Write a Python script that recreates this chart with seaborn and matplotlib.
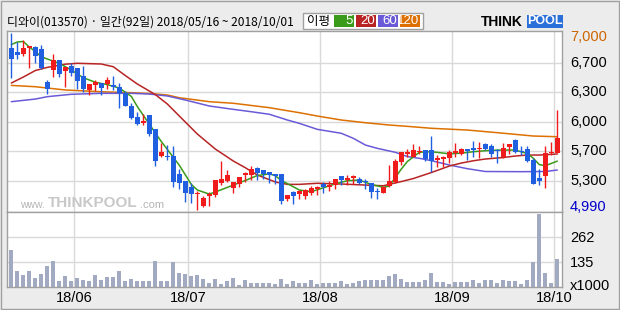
import numpy as np
import pandas as pd
import matplotlib
matplotlib.use("Agg")
import matplotlib.pyplot as plt
import matplotlib.transforms as mtransforms
from matplotlib.patches import Rectangle
import seaborn as sns

# ---------------- data ----------------
opens = [6831, 6789, 6767, 6838, 6843, 6823, 6445, 6588, 6698, 6573,
         6630, 6604, 6517, 6358, 6418, 6437, 6426, 6414, 6395, 6320,
         6179, 6051, 5986, 6077, 5915, 5608, 5608, 5608, 5403, 5327,
         5259, 5180, 5040, 5154, 5168, 5305, 5324, 5248, 5289, 5388,
         5392, 5475, 5445, 5426, 5407, 5403, 5120, 5195, 5180, 5157,
         5191, 5233, 5290, 5259, 5278, 5380, 5335, 5358, 5343, 5324,
         5305, 5210, 5191, 5267, 5316, 5540, 5627, 5600, 5653, 5676,
         5676, 5566, 5577, 5582, 5646, 5631, 5687, 5703, 5684, 5741,
         5721, 5676, 5600, 5714, 5790, 5669, 5687, 5562, 5358, 5384,
         5638, 5646]
highs = [7000, 6906, 6926, 6861, 6857, 6872, 6471, 6767, 6698, 6619,
         6661, 6611, 6630, 6426, 6471, 6437, 6505, 6517, 6434, 6343,
         6207, 6111, 6082, 6077, 5915, 5752, 5729, 5721, 5457, 5327,
         5305, 5214, 5154, 5200, 5335, 5554, 5449, 5316, 5373, 5430,
         5494, 5486, 5445, 5426, 5407, 5403, 5165, 5210, 5222, 5237,
         5267, 5271, 5316, 5327, 5350, 5380, 5392, 5392, 5366, 5343,
         5305, 5241, 5267, 5505, 5570, 5653, 5684, 5744, 5722, 5676,
         5836, 5623, 5608, 5676, 5752, 5695, 5687, 5775, 5771, 5752,
         5741, 5687, 5752, 5744, 5801, 5725, 5721, 5582, 5460, 5721,
         5771, 6130]
lows = [6497, 6706, 6744, 6611, 6661, 6596, 6309, 6509, 6505, 6395,
        6520, 6366, 6331, 6301, 6347, 6301, 6373, 6354, 6157, 6176,
        6025, 5960, 5960, 5838, 5498, 5593, 5560, 5252, 5230, 5082,
        5074, 4990, 5032, 5040, 5146, 5275, 5316, 5191, 5259, 5316,
        5335, 5335, 5346, 5297, 5286, 5059, 5100, 5059, 5120, 5120,
        5165, 5165, 5184, 5210, 5237, 5275, 5278, 5290, 5286, 5233,
        5135, 5123, 5184, 5259, 5305, 5502, 5600, 5593, 5627, 5551,
        5423, 5487, 5487, 5525, 5600, 5619, 5562, 5593, 5582, 5676,
        5600, 5532, 5582, 5631, 5638, 5619, 5536, 5290, 5278, 5248,
        5619, 5646]
closes = [6713, 6759, 6831, 6854, 6747, 6611, 6366, 6698, 6543, 6619,
          6554, 6463, 6369, 6426, 6448, 6384, 6471, 6395, 6320, 6176,
          6039, 5971, 6009, 5861, 5554, 5657, 5597, 5313, 5305, 5184,
          5173, 5192, 5134, 5173, 5335, 5350, 5392, 5316, 5373, 5411,
          5460, 5418, 5407, 5396, 5384, 5100, 5165, 5157, 5207, 5222,
          5248, 5259, 5252, 5278, 5350, 5335, 5358, 5384, 5305, 5309,
          5203, 5199, 5259, 5324, 5551, 5653, 5653, 5676, 5669, 5574,
          5555, 5585, 5593, 5653, 5665, 5687, 5665, 5676, 5699, 5684,
          5631, 5665, 5695, 5744, 5650, 5650, 5551, 5290, 5327, 5646,
          5657, 5816]
volumes = [191, 83, 62, 83, 45, 67, 109, 134, 31, 57,
           31, 47, 36, 31, 62, 36, 52, 52, 83, 31,
           41, 31, 31, 31, 134, 31, 31, 129, 72, 67,
           57, 62, 41, 19, 41, 16, 31, 47, 10, 36,
           21, 21, 21, 21, 16, 41, 16, 31, 21, 21,
           36, 16, 21, 21, 21, 31, 16, 21, 31, 36,
           36, 36, 36, 57, 67, 41, 26, 26, 26, 36,
           72, 26, 26, 16, 26, 26, 26, 36, 21, 36,
           36, 21, 36, 31, 31, 16, 36, 129, 377, 72,
           21, 145]

ma5_idx = [0, 1, 2, 3, 4, 5, 8, 10, 12, 14, 16, 18, 20, 21, 23, 25, 26, 28, 30, 31,
           33, 35, 37, 39, 41, 43, 44, 45, 46, 48, 50, 51, 54, 56, 58, 60, 62, 63,
           65, 66, 68, 70, 73, 75, 77, 79, 81, 84, 86, 87, 88, 89, 91]
ma5_val = [6874, 6903, 6909, 6846, 6795, 6735, 6660, 6585, 6497, 6446, 6419, 6380,
           6285, 6170, 5970, 5772, 5683, 5503, 5285, 5222, 5175, 5225, 5278, 5330,
           5386, 5405, 5385, 5330, 5295, 5222, 5202, 5225, 5292, 5327, 5335, 5285,
           5252, 5267, 5460, 5545, 5650, 5657, 5633, 5640, 5657, 5668, 5675, 5676,
           5636, 5582, 5510, 5498, 5550]
ma20_idx = [0, 2, 4, 6, 9, 11, 15, 17, 19, 21, 24, 26, 29, 31, 34, 37, 39, 41, 44,
            46, 48, 51, 55, 59, 62, 65, 67, 70, 73, 75, 77, 79, 82, 84, 86, 88, 91]
ma20_val = [6437, 6505, 6579, 6615, 6651, 6661, 6653, 6622, 6522, 6426, 6306, 6199,
            5994, 5858, 5687, 5551, 5475, 5392, 5313, 5286, 5286, 5298, 5290, 5278,
            5270, 5318, 5352, 5420, 5494, 5528, 5554, 5574, 5591, 5608, 5619, 5619, 5631]
ma60_idx = [0, 4, 6, 10, 15, 20, 23, 26, 29, 33, 37, 40, 43, 46, 48, 51, 55, 57, 59,
            61, 64, 66, 68, 70, 73, 76, 79, 85, 89, 91]
ma60_val = [6225, 6255, 6282, 6309, 6320, 6320, 6312, 6290, 6244, 6176, 6138, 6111,
            6082, 6017, 5979, 5911, 5866, 5809, 5733, 5695, 5650, 5602, 5582, 5555,
            5506, 5464, 5432, 5430, 5432, 5449]
ma120_idx = [0, 4, 9, 15, 20, 23, 26, 28, 33, 37, 43, 48, 51, 55, 59, 63, 66, 70,
             76, 81, 87, 91]
ma120_val = [6410, 6395, 6358, 6338, 6327, 6318, 6301, 6270, 6225, 6207, 6157, 6100,
             6062, 6017, 5986, 5960, 5945, 5923, 5903, 5873, 5835, 5827]

month_idx = [11, 30, 52, 74, 91]
month_labels = ["18/06", "18/07", "18/08", "18/09", "18/10"]
price_labels = ["4,990", "5,300", "5,700", "6,000", "6,300", "6,700", "7,000"]
price_min, price_max = 4990, 7000
vol_ticks = [130, 260]
vol_labels = ["135", "262"]
legend_labels = ["5", "20", "60", "120"]
title = "디와이(013570) · 일간(92일) 2018/05/16 ~ 2018/10/01"

# ---------------- styling ----------------
sns.set_theme(style="white")
plt.rcParams['font.family'] = ['Noto Sans CJK KR', 'DejaVu Sans']
NARROW = ['Liberation Sans Narrow', 'Liberation Sans', 'DejaVu Sans']

RED = '#f01c1c'
BLUE = '#1f5fe0'
C_MA5, C_MA20, C_MA60, C_MA120 = '#3a9a1a', '#b82424', '#6a5ad8', '#dd7000'
GRID = '#d9d9d9'
SPINE = '#a0a0a0'
BG = '#ececec'

W, H = 620, 310
fig = plt.figure(figsize=(W / 100, H / 100), dpi=100)
fig.patch.set_facecolor(BG)

def fx(px):
    return px / W

def fy(py):
    return 1 - py / H

def frect(x0, y0, x1, y1, **kw):
    fig.add_artist(Rectangle((fx(x0), fy(y1)), (x1 - x0) / W, (y1 - y0) / H,
                             transform=fig.transFigure, **kw))

ax = fig.add_axes([fx(7), fy(212), (562 - 7) / W, (212 - 31) / H])
axv = fig.add_axes([fx(7), fy(287), (562 - 7) / W, (287 - 212) / H])

df = pd.DataFrame({"open": opens, "high": highs, "low": lows, "close": closes,
                   "volume": volumes})
df["idx"] = np.arange(len(df))
up = df["close"] >= df["open"]
colors = np.where(up, RED, BLUE)

# grid
grid_vals = np.linspace(price_min, price_max, 7)
for g in grid_vals[1:-1]:
    ax.axhline(g, color=GRID, lw=1, zorder=0)
for m in month_idx:
    ax.axvline(m - 0.5, color=GRID, lw=1, zorder=0)
    axv.axvline(m - 0.5, color=GRID, lw=1, zorder=0)
for v in vol_ticks:
    axv.axhline(v, color=GRID, lw=1, zorder=0)

# watermark
fig.text(fx(20), fy(204.5), "www.", fontsize=7.5, color='#b4b4b4',
         family=NARROW, va='center', ha='left', zorder=1)
fig.text(fx(48), fy(203), "THINKPOOL", fontsize=11, fontweight='bold',
         color='#c8c8c8', family=NARROW, va='center', ha='left', zorder=1)
fig.text(fx(140), fy(204.5), ".com", fontsize=8, color='#b4b4b4',
         family=NARROW, va='center', ha='left', zorder=1)

# moving averages
for xi, yv, c in [(ma120_idx, ma120_val, C_MA120), (ma60_idx, ma60_val, C_MA60),
                  (ma20_idx, ma20_val, C_MA20), (ma5_idx, ma5_val, C_MA5)]:
    sns.lineplot(x=xi, y=yv, ax=ax, color=c, lw=1.1, legend=False, zorder=2)

# candles
ax.vlines(df["idx"], df["low"], df["high"], colors=colors, lw=1, zorder=3)
body_lo = np.minimum(df["open"], df["close"])
body_h = np.maximum(np.abs(df["close"] - df["open"]), 12)
ax.bar(df["idx"], body_h, bottom=body_lo, width=0.8, color=colors, linewidth=0,
       zorder=4)

# volume
axv.bar(df["idx"], df["volume"], width=0.72, color='#a2aac2', linewidth=0, zorder=2)

xlim = (-0.72, 91.78)
ax.set_xlim(*xlim)
axv.set_xlim(*xlim)
ax.set_ylim(4972, 7028)
axv.set_ylim(0, 388)
ax.set_ylabel("")
ax.set_xlabel("")

for a in (ax, axv):
    a.set_facecolor('white')
    a.set_xticks([])
    a.set_yticks([])
    for s in a.spines.values():
        s.set_color(SPINE)
        s.set_linewidth(1)
        s.set_visible(True)

# right price labels
ytrans = ax.get_yaxis_transform()
for i, (val, lab) in enumerate(zip(grid_vals, price_labels)):
    col = 'black'
    dy = 0
    if i == 0:
        col, dy = '#0000cc', 3.5
    elif i == len(grid_vals) - 1:
        col, dy = '#cc6600', -3.5
    tr = mtransforms.offset_copy(ytrans, fig=fig, x=8, y=dy, units='dots')
    ax.text(1, val, lab, transform=tr, ha='left', va='center', fontsize=10.5,
            color=col, family=NARROW, clip_on=False)

# right volume labels
vtrans = axv.get_yaxis_transform()
for val, lab in zip(vol_ticks, vol_labels):
    tr = mtransforms.offset_copy(vtrans, fig=fig, x=8, y=-1, units='dots')
    axv.text(1, val, lab, transform=tr, ha='left', va='center', fontsize=10.5,
             color='black', family=NARROW, clip_on=False)
tr = mtransforms.offset_copy(vtrans, fig=fig, x=8, y=1, units='dots')
axv.text(1, 0, "x1000", transform=tr, ha='left', va='center', fontsize=10.5,
         color='black', family=NARROW, clip_on=False)

# bottom month labels
xtrans = axv.get_xaxis_transform()
for m, lab in zip(month_idx, month_labels):
    tr = mtransforms.offset_copy(xtrans, fig=fig, x=0, y=-11, units='dots')
    axv.text(m - 0.5, 0, lab, transform=tr, ha='center', va='center', fontsize=10.5,
             color='black', family=NARROW, clip_on=False)

# header
fig.text(fx(7), fy(22), title, fontsize=8.6, va='center', ha='left', color='black',
         family=['Noto Sans CJK KR', 'DejaVu Sans'])

# legend box
frect(303, 13, 423, 29, facecolor='white', edgecolor=SPINE, lw=1)
fig.text(fx(307), fy(21), "이평", fontsize=9, va='center', ha='left', color='black',
         family=['Noto Sans CJK KR', 'DejaVu Sans'])
for k, (lab, c) in enumerate(zip(legend_labels, [C_MA5, C_MA20, C_MA60, C_MA120])):
    x0 = 334 + 22 * k
    frect(x0, 15, x0 + 20, 27, facecolor=c, edgecolor='none')
    fig.text(fx(x0 + 19), fy(21.5), lab, fontsize=9.5, va='center', ha='right',
             color='white', family=NARROW)

# logo
fig.text(fx(481), fy(21.5), "THINK", fontsize=10, fontweight='bold', va='center',
         ha='left', color='black', family=NARROW)
frect(527, 15, 563, 28, facecolor='#2b6fd8', edgecolor='none')
fig.text(fx(545), fy(21.5), "POOL", fontsize=9, fontweight='bold', va='center',
         ha='center', color='white', family=NARROW)

# outer border
frect(1, 1, 619, 309, facecolor='none', edgecolor=SPINE, lw=1)

fig.savefig("out.png", dpi=100, facecolor=BG)
